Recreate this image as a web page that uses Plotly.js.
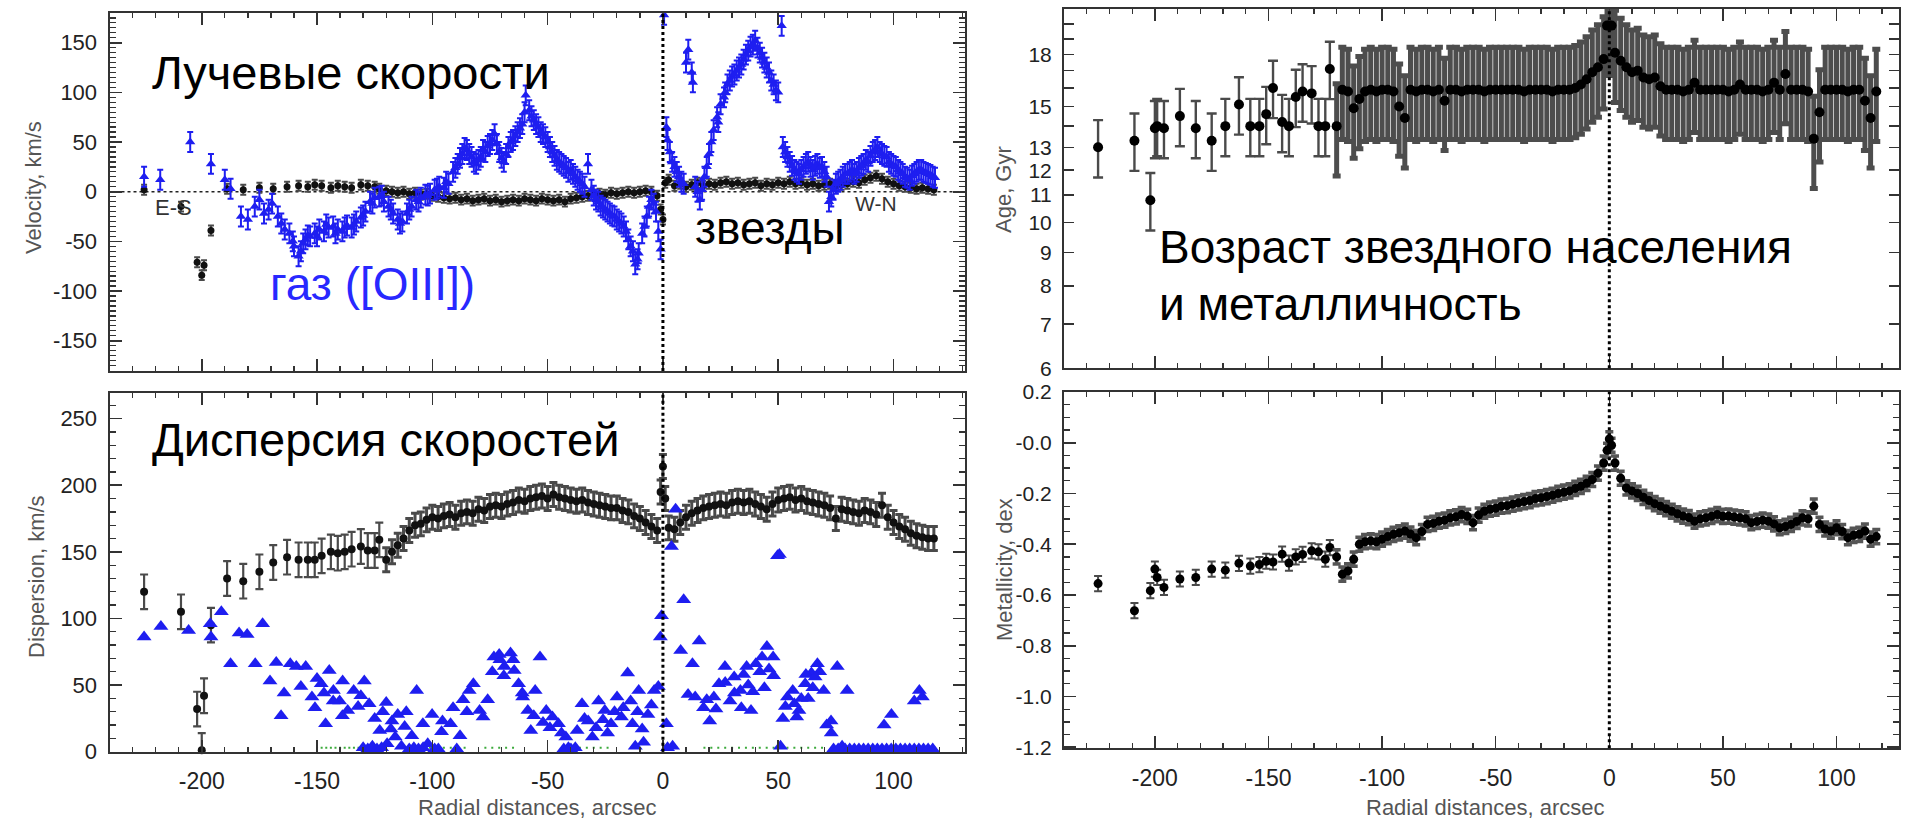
<!DOCTYPE html>
<html>
<head>
<meta charset="utf-8">
<script src="https://cdn.plot.ly/plotly-3.0.1.min.js"></script>
<style>
html,body{margin:0;padding:0;background:#fff;}
#chart{width:1905px;height:821px;}
</style>
</head>
<body>
<div id="chart"></div>
<script>
// ---------------- DATA ----------------
// Radial positions of the stellar bins (arcsec); first 23 are the sparse outer bins
const N_OUTER = 23;
const rStar = [
  -225, -209, -202, -200, -199, -196, -189, -182, -175, -169,
  -163, -158, -154, -151, -148, -144, -141, -138, -135, -131,
  -128, -125, -123,
  -120, -117.5, -115, -112.5, -110, -107.5, -105, -102.5, -100, -97.5,
  -95, -92.5, -90, -87.5, -85, -82.5, -80, -77.5, -75, -72.5,
  -70, -67.5, -65, -62.5, -60, -57.5, -55, -52.5, -50, -47.5,
  -45, -42.5, -40, -37.5, -35, -32.5, -30, -27.5, -25, -22.5,
  -20, -17.5, -15, -12.5, -10, -7.5, -5, -2.5, -1, 0,
  1, 2.5, 5, 7.5, 10, 12.5, 15, 17.5, 20, 22.5,
  25, 27.5, 30, 32.5, 35, 37.5, 40, 42.5, 45, 47.5,
  50, 52.5, 55, 57.5, 60, 62.5, 65, 67.5, 70, 72.5,
  75, 77.5, 80, 82.5, 85, 87.5, 90, 92.5, 95, 97.5,
  100, 102.5, 105, 107.5, 110, 112.5, 115, 117.5
];
// Stellar line-of-sight velocity, km/s
const vStar = [
  2, -15, -71, -84, -74, -39, 3, 2, 4, 3,
  5, 6, 5, 7, 6, 4, 6, 5, 4, 7,
  6, 5, 3,
  1, 0, -1, 0, -2, -1, -3, -2, -4, -5,
  -6, -7, -6, -8, -7, -9, -8, -7, -9, -8,
  -10, -9, -8, -9, -7, -8, -9, -7, -8, -9,
  -8, -10, -7, -6, -5, -4, -3, -2, -3, -1,
  -2, -1, 0, -1, 0, 1, 0, -4, -18, -28,
  9, 12, 6, 8, 5, 7, 9, 6, 8, 7,
  9, 10, 8, 9, 7, 8, 9, 6, 8, 7,
  9, 8, 10, 8, 9, 7, 8, 6, 7, 8,
  6, 7, 8, 10, 9, 12, 14, 16, 13, 10,
  8, 6, 5, 4, 3, 4, 3, 2
];
// Stellar velocity dispersion, km/s
const dStar = [
  120, 105, 32, 1, 42, 95, 130, 128, 135, 142,
  146, 144, 144, 144, 147, 150, 149, 150, 152, 154,
  151, 151, 159,
  144, 150, 155, 160, 166, 170, 171, 174, 176, 175,
  177, 178, 176, 179, 180, 179, 182, 181, 184, 185,
  184, 186, 187, 189, 188, 190, 191, 192, 190, 193,
  191, 190, 189, 188, 189, 187, 186, 185, 184, 183,
  183, 181, 180, 177, 175, 172, 169, 166, 195, 214,
  190, 168, 167, 172, 176, 179, 181, 183, 184, 185,
  186, 185, 187, 188, 187, 188, 186, 184, 182, 186,
  189, 190, 191, 189, 190, 188, 187, 186, 185, 183,
  175, 182, 181, 180, 179, 181, 180, 178, 185, 176,
  172, 169, 167, 164, 162, 161, 160, 160
];
// Stellar population age, Gyr
const ageStar = [
  13.0, 13.3, 10.8, 13.9, 14.0, 13.9, 14.5, 13.9, 13.3, 14.0,
  15.1, 14.0, 14.0, 14.6, 16.0, 14.2, 14.0, 15.5, 15.8, 15.7,
  14.0, 14.0, 17.1,
  14.0, 15.9, 15.8, 14.9, 15.4, 15.8, 15.9, 15.8, 15.9, 15.9,
  15.8, 15.0, 14.4, 15.9, 15.8, 15.9, 15.9, 15.8, 15.9, 15.3,
  15.9, 15.9, 15.8, 15.9, 15.9, 15.9, 15.8, 15.9, 15.9, 15.9,
  15.9, 15.9, 15.9, 15.8, 15.9, 15.9, 15.9, 15.9, 15.8, 15.9,
  15.9, 15.9, 16.0, 16.2, 16.5, 16.9, 17.2, 17.7, 19.9, 19.9,
  19.9, 18.1, 17.6, 17.2, 16.9, 17.0, 16.6, 16.5, 16.6, 16.1,
  15.9, 15.9, 15.9, 15.8, 15.9, 16.3, 15.9, 15.9, 15.9, 15.9,
  15.9, 15.8, 15.9, 16.2, 15.9, 15.9, 15.9, 15.8, 15.9, 16.3,
  15.9, 16.8, 15.9, 15.9, 15.9, 15.8, 13.4, 14.7, 15.9, 15.9,
  15.9, 15.9, 15.8, 15.9, 15.9, 15.3, 14.4, 15.8
];
// Stellar metallicity, dex
const metStar = [
  -0.555, -0.662, -0.583, -0.498, -0.531, -0.570, -0.537, -0.531, -0.498, -0.502,
  -0.475, -0.486, -0.48, -0.467, -0.47, -0.439, -0.474, -0.45, -0.44, -0.426,
  -0.43, -0.459, -0.413,
  -0.45, -0.518, -0.505, -0.459, -0.40, -0.39, -0.387, -0.39, -0.38, -0.37,
  -0.361, -0.355, -0.348, -0.36, -0.374, -0.35, -0.322, -0.318, -0.309, -0.305,
  -0.296, -0.292, -0.283, -0.29, -0.315, -0.285, -0.27, -0.262, -0.258, -0.25,
  -0.248, -0.242, -0.237, -0.232, -0.228, -0.22, -0.217, -0.212, -0.207, -0.2,
  -0.195, -0.19, -0.18, -0.172, -0.16, -0.145, -0.12, -0.08, -0.03, 0.015,
  -0.01, -0.08, -0.14, -0.178, -0.19, -0.2, -0.215, -0.228, -0.24, -0.25,
  -0.26, -0.27, -0.28, -0.289, -0.295, -0.309, -0.3, -0.296, -0.29, -0.283,
  -0.29, -0.289, -0.293, -0.296, -0.3, -0.315, -0.31, -0.305, -0.309, -0.32,
  -0.335, -0.33, -0.322, -0.31, -0.296, -0.3, -0.25, -0.322, -0.34, -0.348,
  -0.335, -0.35, -0.374, -0.365, -0.361, -0.348, -0.38, -0.37
];
// Ionized gas ([OIII]) velocity
const rGasV = [
  -225, -218, -205, -196, -190, -187.5, -183, -180, -177, -175,
  -173, -171, -169.5, -167, -165.5, -164, -162, -160, -158, -156,
  -155, -153, -151, -149, -147, -145, -143, -141, -139, -137,
  -135, -133, -131, -129, -127, -125, -123, -121, -119, -117,
  -115, -113, -111, -109, -107, -105, -103, -101, -99, -97,
  -95, -93, -91, -89, -87, -85, -83, -81, -79, -77,
  -75, -73, -71, -69, -67, -65, -63, -61, -59.5, -58,
  -56, -54, -52, -50, -48, -46, -44, -42, -40, -38,
  -36, -34, -32.5, -31, -29, -27, -25, -23, -21, -19,
  -17, -15, -13, -12, -10.5, -9, -7, -5, -3, -1,
  0.5, 1.5, 3, 5, 7, 9, 11, 12.5, 14, 16,
  18, 20, 22, 23.5, 25, 26.5, 28, 30, 32, 34,
  36, 38, 40, 42, 44, 46, 48, 50, 51.5, 53,
  55, 57, 59, 61, 63, 65, 67, 69, 71, 73,
  75, 77, 79, 81, 83, 85, 87, 89, 91, 93,
  95, 97, 99, 101, 103, 105, 107, 109, 111, 113,
  115, 117,
  -160.5, -157, -154, -150, -146, -142, -138, -134, -130, -126,
  -122, -118, -114, -110, -106, -102, -98, -94, -90, -88,
  -86, -84, -82, -80, -78, -76, -74, -72, -70, -68,
  -66, -64, -62, -60, -57, -55, -53, -51, -49, -47,
  -45, -43, -41, -39, -37, -35, -30, -28, -26, -24,
  -22, -20, -18, -16, -14, -11, -8, -6, -4, -2,
  2, 4, 6, 8, 10, 13, 15, 17, 19, 21,
  24, 27, 29, 31, 33, 35, 37, 39, 41, 43,
  45, 47, 49, 52, 54, 56, 58, 60, 62, 64,
  66, 68, 70, 72, 74, 76, 78, 80, 82, 84,
  86, 88, 90, 92, 94, 96, 98, 100, 102, 104,
  106, 108, 110, 112, 114, 116, 118
];
const vGas = [
  15, 12, 50, 28, 12, 3, -25, -28, -15, -8,
  -22, -18, -12, -25, -32, -38, -42, -55, -65, -52,
  -48, -45, -42, -38, -40, -36, -35, -38, -40, -34,
  -36, -30, -26, -20, -10, -6, -5, -10, -15, -22,
  -28, -30, -22, -15, -8, -6, -3, -2, 2, 5,
  4, 8, 20, 28, 38, 42, 35, 28, 35, 40,
  48, 58, 40, 30, 45, 52, 60, 68, 97, 82,
  72, 65, 58, 50, 40, 32, 28, 24, 22, 15,
  10, 5, 28, 2, -8, -14, -18, -22, -25, -30,
  -35, -48, -60, -73, -62, -42, -25, -8, -20, -58,
  178, 65, 40, 25, 15, 8, 143, 120, 5, -8,
  15, 38, 62, 75, 88, 95, 108, 116, 122, 128,
  138, 146, 152, 140, 130, 120, 108, 100, 167, 40,
  30, 22, 18, 25, 30, 22, 28, 25, 15, -5,
  8, 12, 18, 20, 18, 24, 28, 30, 40, 45,
  38, 35, 28, 25, 20, 15, 12, 18, 22, 20,
  18, 15,
  -50, -60, -44, -45, -33, -42, -36, -33, -24, -12,
  -4, -18, -32, -18, -10, -4, 3, 10, 24, 34,
  44, 38, 30, 32, 42, 46, 52, 48, 34, 38,
  50, 56, 64, 80, 76, 68, 60, 55, 45, 36,
  30, 26, 20, 18, 12, 8, -4, -10, -16, -20,
  -24, -28, -32, -40, -55, -68, -35, -15, -12, -40,
  52, 30, 20, 10, 130, 110, 0, 2, 25, 50,
  70, 100, 112, 118, 125, 133, 142, 148, 145, 135,
  125, 112, 102, 45, 35, 26, 20, 22, 28, 25,
  26, 24, 20, -10, 2, 10, 15, 18, 22, 20,
  26, 32, 36, 42, 40, 36, 30, 26, 22, 18,
  14, 16, 20, 22, 19, 17, 14
];
// Ionized gas velocity dispersion
const rGasD = [
  -225, -217.7, -205.7, -196.3, -196, -191.5, -187.5, -183.8, -180.3, -176.8,
  -173.6, -170.4, -167.7, -165.6, -164.3, -161.6, -159, -157, -154.9, -152.2,
  -150.9, -148.2, -146.3, -144.7, -142.9, -140.2, -138.9, -136.7, -134.1, -132.2,
  -129.5, -127.4, -125, -122.8, -121.5, -119.6, -117.5, -116.1, -113.4, -111.3,
  -108.9, -106.8, -104.1, -102, -100.1, -97.4, -95.6, -92.1, -89.4, -86.7,
  -84, -82.2, -79.5, -76, -73.3, -70.7, -68.8, -66.1, -64.5, -62.6,
  -60.8, -58.6, -57.3, -55.4, -53.3, -50.6, -47.9, -45.3, -42.1, -39.9,
  -37.2, -35.1, -32.4, -30.6, -27.9, -25.2, -22.5, -19.9, -17.2, -15.3,
  -13.2, -10.5, -8.4, -6.5, -3.8, -1.1, -0.6, 1.5, 3.7, 5.5,
  4.2, 7.7, 9, 10.9, 12.8, 15.7, 17.6, 20.3, 22.1, 24.3,
  26.9, 29.1, 30.9, 33.6, 36.3, 38.2, 40.3, 43, 45.1, 47.8,
  49.7, 50.5, 51, 53.1, 56.3, 59, 61.7, 64.4, 67, 69.7,
  72.9, 75.6, 77.7, 79.9, 95.9, 99.1, 111.2, 112.5,
  74, 76, 79, 81, 83, 85, 87, 89, 91, 93,
  95, 97, 99, 101, 103, 105, 107, 109, 111, 113,
  115, 117,
  -130, -128, -126, -124, -122, -110, -108, -106, -104, -99,
  -43, -41, -38, -12, 2,
  -150, -147, -143, -139, -131, -120, -118, -115, -112, -96,
  -91, -88, -85, -78, -74, -71, -69, -65, -61, -56,
  -52, -49, -44, -34, -29, -26, -24, -21, -18, -14,
  -11, -9, -5, -2, 14, 19, 23, 27, 31, 34,
  35, 37, 39, 42, 44, 46, 48, 52, 54, 57,
  58, 60, 62, 63, 65, 66, 68, 71, 73, 109
];
const dGas = [
  86, 94, 91, 96, 86, 105, 66, 89, 88, 66,
  96, 53, 67, 27, 44, 66, 64, 49, 64, 41,
  33, 51, 21, 61, 46, 38, 53, 31, 46, 34,
  53, 36, 25, 16, 30, 6, 23, 11, 4, 30,
  12, 46, 21, 6, 28, 2, 23, 21, 2, 39,
  46, 51, 31, 39, 71, 69, 64, 74, 61, 51,
  41, 31, 16, 46, 71, 31, 26, 21, 11, 2,
  16, 36, 23, 11, 38, 31, 21, 41, 33, 59,
  21, 46, 7, 28, 46, 86, 102, 21, 154, 182,
  4, 76, 114, 43, 66, 83, 33, 23, 41, 51,
  64, 38, 56, 46, 64, 31, 66, 71, 79, 71,
  147, 148, 4, 34, 46, 31, 51, 59, 66, 46,
  23, 64, 4, 46, 20, 28, 46, 41,
  2, 2, 2, 2, 2, 2, 2, 2, 2, 2,
  2, 2, 2, 2, 2, 2, 2, 2, 2, 2,
  2, 2,
  3, 2, 4, 2, 3, 2, 3, 2, 3, 2,
  2, 3, 3, 4, 3,
  55, 44, 38, 27, 42, 37, 17, 28, 19, 15,
  33, 12, 30, 26, 60, 73, 57, 69, 44, 27,
  22, 18, 14, 25, 18, 24, 14, 30, 26, 38,
  30, 17, 35, 49, 41, 39, 32, 52, 44, 33,
  58, 50, 45, 60, 48, 62, 57, 25, 41, 36,
  26, 40, 58, 40, 48, 56, 60, 20, 14, 38
];
// small green markers along the bottom of the dispersion panel
const greenR = [
  -150, -148, -146, -144, -142, -140, -138, -136, -134, -132,
  -130, -128, -126, -124, -104, -101, -98, -95, -92, -89,
  -86, -77, -74, -71, -68, -65, -42, -39, -36, -33,
  -30, -27, -24, 18, 21, 24, 27, 30, 33, 36,
  39, 42, 45, 48, 51, 54, 57, 60, 63, 66, 69
];
const greenD = [
  3, 3, 3, 3, 3, 3, 3, 3, 3, 3,
  3, 3, 3, 3, 3, 3, 3, 3, 3, 3,
  3, 3, 3, 3, 3, 3, 3, 3, 3, 3,
  3, 3, 3, 3, 3, 3, 3, 3, 3, 3,
  3, 3, 3, 3, 3, 3, 3, 3, 3, 3, 3
];

// Tick values / labels
const xTickVals = [-200, -150, -100, -50, 0, 50, 100];
const xTickText = ['-200', '-150', '-100', '-50', '0', '50', '100'];
const velTickVals = [-150, -100, -50, 0, 50, 100, 150];
const velTickText = ['-150', '-100', '-50', '0', '50', '100', '150'];
const dispTickVals = [0, 50, 100, 150, 200, 250];
const dispTickText = ['0', '50', '100', '150', '200', '250'];
const ageTickVals = [6, 7, 8, 9, 10, 11, 12, 13, 14, 15, 16, 17, 18, 19, 20];
const ageTickText = ['6', '7', '8', '9', '10', '11', '12', '13', '', '15', '', '', '18', '', ''];
const metTickVals = [-1.2, -1.0, -0.8, -0.6, -0.4, -0.2, 0, 0.2];
const metTickText = ['-1.2', '-1.0', '-0.8', '-0.6', '-0.4', '-0.2', '-0.0', '0.2'];

// ---------------- STYLE ----------------
const FONT = 'Liberation Sans, Arial, Helvetica, sans-serif';
const BLUE = 'rgb(30,30,240)';
const STARERR = '#4a4a4a';
const W = 1905, H = 821;
const px = v => v / W;
const py = v => 1 - v / H;

function axisBase(extra) {
  return Object.assign({
    showline: true, linecolor: '#333', linewidth: 2, mirror: 'allticks',
    ticks: 'inside', ticklen: 12, tickwidth: 1.6, tickcolor: '#333',
    showgrid: false, zeroline: false, automargin: false, fixedrange: true,
    tickmode: 'array', tickfont: {family: FONT, size: 22, color: '#222'}
  }, extra);
}
const minorX = {ticks: 'inside', ticklen: 5, tickwidth: 1.3, tickcolor: '#333', dtick: 10, tick0: 0, showgrid: false};

const outer = a => a.slice(0, N_OUTER);
const inner = a => a.slice(N_OUTER);

const traces = [
  // ---- velocity panel ----
  {x: rStar, y: vStar, xaxis: 'x', yaxis: 'y', type: 'scatter', mode: 'markers',
   marker: {symbol: 'circle', size: 7, color: '#111'},
   error_y: {type: 'constant', value: 5, color: STARERR, thickness: 2, width: 3}},
  {x: rGasV, y: vGas, xaxis: 'x', yaxis: 'y', type: 'scatter', mode: 'markers',
   marker: {symbol: 'triangle-up', size: 9, color: BLUE},
   error_y: {type: 'constant', value: 10, color: BLUE, thickness: 2, width: 3}},
  // ---- dispersion panel ----
  {x: outer(rStar), y: outer(dStar), xaxis: 'x2', yaxis: 'y2', type: 'scatter', mode: 'markers',
   cliponaxis: false,
   marker: {symbol: 'circle', size: 8, color: '#111'},
   error_y: {type: 'constant', value: 13, color: STARERR, thickness: 2.2, width: 4}},
  {x: inner(rStar), y: inner(dStar), xaxis: 'x2', yaxis: 'y2', type: 'scatter', mode: 'markers',
   marker: {symbol: 'circle', size: 8, color: '#111'},
   error_y: {type: 'constant', value: 9, color: STARERR, thickness: 3, width: 4}},
  {x: greenR, y: greenD, xaxis: 'x2', yaxis: 'y2', type: 'scatter', mode: 'markers',
   marker: {symbol: 'square', size: 2, color: 'rgb(60,170,60)'}},
  {x: rGasD, y: dGas, xaxis: 'x2', yaxis: 'y2', type: 'scatter', mode: 'markers',
   cliponaxis: false,
   marker: {symbol: 'triangle-up', size: 13, color: BLUE}},
  // ---- age panel ----
  {x: outer(rStar), y: outer(ageStar), xaxis: 'x3', yaxis: 'y3', type: 'scatter', mode: 'markers',
   marker: {symbol: 'circle', size: 10, color: '#000'},
   error_y: {type: 'percent', value: 10, color: STARERR, thickness: 2.4, width: 5}},
  {x: inner(rStar), y: inner(ageStar), xaxis: 'x3', yaxis: 'y3', type: 'scatter', mode: 'markers',
   marker: {symbol: 'circle', size: 10, color: '#000'},
   error_y: {type: 'percent', value: 16, color: '#4d4d4d', thickness: 5, width: 4}},
  // ---- metallicity panel ----
  {x: outer(rStar), y: outer(metStar), xaxis: 'x4', yaxis: 'y4', type: 'scatter', mode: 'markers',
   marker: {symbol: 'circle', size: 9, color: '#000'},
   error_y: {type: 'constant', value: 0.03, color: STARERR, thickness: 2, width: 4}},
  {x: inner(rStar), y: inner(metStar), xaxis: 'x4', yaxis: 'y4', type: 'scatter', mode: 'markers',
   marker: {symbol: 'circle', size: 9, color: '#000'},
   error_y: {type: 'constant', value: 0.028, color: '#555', thickness: 3.5, width: 4}}
];

const LX = [px(109.5), px(965)];
const RX = [px(1064), px(1899)];

const layout = {
  width: W, height: H,
  margin: {l: 0, r: 0, t: 0, b: 0, pad: 0},
  paper_bgcolor: '#fff', plot_bgcolor: '#fff',
  showlegend: false,
  font: {family: FONT, color: '#222'},
  xaxis: axisBase({domain: LX, anchor: 'y', range: [-240, 131], tickvals: xTickVals, ticktext: xTickText, showticklabels: false, minor: minorX}),
  yaxis: axisBase({domain: [py(371), py(12.7)], anchor: 'x', range: [-180.5, 180.2], tickvals: velTickVals, ticktext: velTickText,
    ticklabelstandoff: 6, minor: {ticks: 'inside', ticklen: 6, tickwidth: 1.3, tickcolor: '#333', dtick: 5, tick0: 0, showgrid: false}}),
  xaxis2: axisBase({domain: LX, anchor: 'y2', range: [-240, 131], tickvals: xTickVals, ticktext: xTickText,
    tickfont: {family: FONT, size: 23, color: '#222'}, ticklabelstandoff: 8, minor: minorX}),
  yaxis2: axisBase({domain: [py(751.7), py(393.3)], anchor: 'x2', range: [0, 269], tickvals: dispTickVals, ticktext: dispTickText,
    ticklabelstandoff: 6, minor: {ticks: 'inside', ticklen: 6, tickwidth: 1.3, tickcolor: '#333', dtick: 10, tick0: 0, showgrid: false}}),
  xaxis3: axisBase({domain: RX, anchor: 'y3', range: [-240, 127.5], tickvals: xTickVals, ticktext: xTickText, showticklabels: false, minor: minorX}),
  yaxis3: axisBase({domain: [py(368.3), py(9)], anchor: 'x3', type: 'log', range: [0.7782, 1.3241], tickvals: ageTickVals, ticktext: ageTickText,
    ticklen: 10, tickfont: {family: FONT, size: 21, color: '#222'}, ticklabelstandoff: 6}),
  xaxis4: axisBase({domain: RX, anchor: 'y4', range: [-240, 127.5], tickvals: xTickVals, ticktext: xTickText,
    tickfont: {family: FONT, size: 23, color: '#222'}, ticklabelstandoff: 8, minor: minorX}),
  yaxis4: axisBase({domain: [py(748.3), py(391.7)], anchor: 'x4', range: [-1.204, 0.201], tickvals: metTickVals, ticktext: metTickText,
    tickfont: {family: FONT, size: 21, color: '#222'}, ticklabelstandoff: 6,
    minor: {ticks: 'inside', ticklen: 6, tickwidth: 1.3, tickcolor: '#333', dtick: 0.05, tick0: 0, showgrid: false}}),
  shapes: [
    {type: 'line', xref: 'x domain', yref: 'y', x0: 0, x1: 1, y0: 0, y1: 0, layer: 'below',
     line: {color: '#222', width: 1.5, dash: 'dot'}},
    {type: 'line', xref: 'x', yref: 'y domain', x0: 0, x1: 0, y0: 0, y1: 1, line: {color: '#000', width: 3, dash: 'dot'}},
    {type: 'line', xref: 'x2', yref: 'y2 domain', x0: 0, x1: 0, y0: 0, y1: 1, line: {color: '#000', width: 3, dash: 'dot'}},
    {type: 'line', xref: 'x3', yref: 'y3 domain', x0: 0, x1: 0, y0: 0, y1: 1, line: {color: '#000', width: 3, dash: 'dot'}},
    {type: 'line', xref: 'x4', yref: 'y4 domain', x0: 0, x1: 0, y0: 0, y1: 1, line: {color: '#000', width: 3, dash: 'dot'}}
  ],
  annotations: [
    // panel captions
    {text: 'Лучевые скорости', xref: 'paper', yref: 'paper', x: px(150), y: py(73), xanchor: 'left', yanchor: 'middle',
     showarrow: false, font: {family: FONT, size: 47, color: '#000'}},
    {text: 'газ ([OIII])', xref: 'paper', yref: 'paper', x: px(268), y: py(284), xanchor: 'left', yanchor: 'middle',
     showarrow: false, font: {family: FONT, size: 46, color: 'rgb(40,40,255)'}},
    {text: 'звезды', xref: 'paper', yref: 'paper', x: px(693), y: py(228), xanchor: 'left', yanchor: 'middle',
     showarrow: false, font: {family: FONT, size: 46, color: '#000'}},
    {text: 'Дисперсия скоростей', xref: 'paper', yref: 'paper', x: px(150), y: py(439), xanchor: 'left', yanchor: 'middle',
     showarrow: false, font: {family: FONT, size: 47, color: '#000'}},
    {text: 'Возраст звездного населения', xref: 'paper', yref: 'paper', x: px(1157), y: py(247), xanchor: 'left', yanchor: 'middle',
     showarrow: false, font: {family: FONT, size: 46, color: '#000'}},
    {text: 'и металличность', xref: 'paper', yref: 'paper', x: px(1157), y: py(304), xanchor: 'left', yanchor: 'middle',
     showarrow: false, font: {family: FONT, size: 46, color: '#000'}},
    // direction labels
    {text: 'E-S', xref: 'paper', yref: 'paper', x: px(153), y: py(208), xanchor: 'left', yanchor: 'middle',
     showarrow: false, font: {family: FONT, size: 22, color: '#333'}},
    {text: 'W-N', xref: 'paper', yref: 'paper', x: px(853), y: py(204), xanchor: 'left', yanchor: 'middle',
     showarrow: false, font: {family: FONT, size: 21, color: '#333'}},
    // axis titles
    {text: 'Velocity, km/s', xref: 'paper', yref: 'paper', x: px(33), y: py(188), xanchor: 'center', yanchor: 'middle',
     textangle: -90, showarrow: false, font: {family: FONT, size: 22, color: '#555'}},
    {text: 'Dispersion, km/s', xref: 'paper', yref: 'paper', x: px(36), y: py(577), xanchor: 'center', yanchor: 'middle',
     textangle: -90, showarrow: false, font: {family: FONT, size: 22, color: '#555'}},
    {text: 'Age, Gyr', xref: 'paper', yref: 'paper', x: px(1004), y: py(190), xanchor: 'center', yanchor: 'middle',
     textangle: -90, showarrow: false, font: {family: FONT, size: 22, color: '#555'}},
    {text: 'Metallicity, dex', xref: 'paper', yref: 'paper', x: px(1004), y: py(570), xanchor: 'center', yanchor: 'middle',
     textangle: -90, showarrow: false, font: {family: FONT, size: 22, color: '#555'}},
    {text: 'Radial distances, arcsec', xref: 'paper', yref: 'paper', x: px(537), y: py(807), xanchor: 'center', yanchor: 'middle',
     showarrow: false, font: {family: FONT, size: 22, color: '#555'}},
    {text: 'Radial distances, arcsec', xref: 'paper', yref: 'paper', x: px(1485), y: py(807), xanchor: 'center', yanchor: 'middle',
     showarrow: false, font: {family: FONT, size: 22, color: '#555'}}
  ]
};

Plotly.newPlot('chart', traces, layout, {displayModeBar: false, staticPlot: true});
</script>
</body>
</html>
